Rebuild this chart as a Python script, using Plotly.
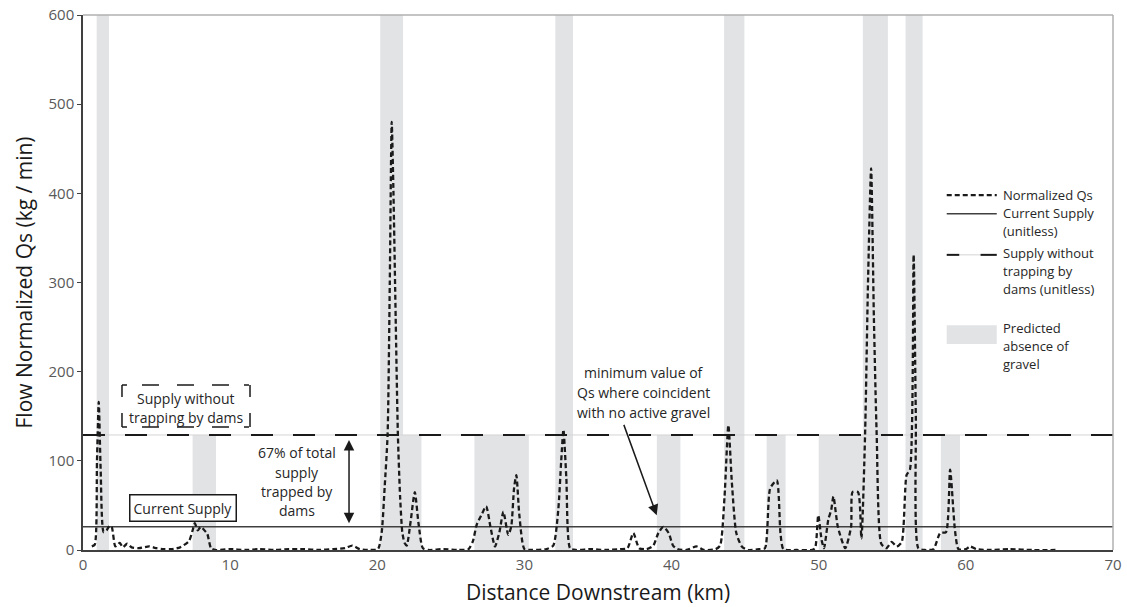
import plotly.graph_objects as go

# ---------------- data ----------------
qs_x = [0.6, 0.8, 0.95, 1.07, 1.2, 1.4, 1.6, 1.8, 1.95, 2.2, 2.5, 2.7, 3.0, 3.3, 3.8, 4.5, 5.0, 5.5,
        6.0, 6.6, 7.2, 7.45, 7.6, 7.8, 8.0, 8.2, 8.45, 8.7, 9.0, 10, 11, 12, 13, 14, 15, 16, 17,
        17.8, 18.3, 18.8, 19.5, 20.05, 20.3, 20.5, 20.7, 20.85, 20.98, 21.1, 21.25, 21.4, 21.55,
        21.7, 21.85, 22.0, 22.25, 22.55, 22.8, 23.1, 23.5, 24.5, 25.5, 26.2, 26.5, 26.75, 27.1,
        27.4, 27.7, 28.0, 28.3, 28.57, 28.9, 29.1, 29.3, 29.45, 29.65, 30.0, 30.5, 31.5, 31.96,
        32.3, 32.5, 32.65, 32.85, 33.1, 33.5, 34.5, 35.5, 36.5, 37.0, 37.4, 37.8, 38.3, 38.76,
        39.1, 39.44, 39.8, 40.1, 40.4, 41.0, 41.7, 42.2, 43.0, 43.3, 43.6, 43.86, 44.1, 44.4,
        44.77, 45.2, 46.0, 46.35, 46.7, 47.15, 47.4, 47.6, 48.5, 49.5, 49.75, 49.97, 50.2, 50.36,
        50.65, 50.85, 51.0, 51.3, 51.8, 52.2, 52.3, 52.67, 52.9, 53.15, 53.35, 53.56, 53.75,
        53.94, 54.25, 54.6, 54.96, 55.3, 55.64, 55.97, 56.2, 56.45, 56.6, 56.77, 57.2, 57.8,
        58.25, 58.65, 58.93, 59.26, 59.5, 60.0, 60.3, 60.7, 61.5, 63.0, 64.5, 66.3]
qs_y = [4, 6, 100, 166, 90, 20, 22, 27, 26, 4, 8, 3, 7, 3, 2, 4, 2, 1,
        1, 3, 10, 22, 30, 22, 26, 23, 18, 2, 0, 1, 0, 1, 0, 1, 1, 0, 1,
        2, 5, 1, 0, 1, 20, 70, 129, 300, 480, 400, 260, 129, 60,
        20, 8, 5, 30, 65, 30, 2, 0, 1, 0, 1, 10, 28, 40,
        49, 25, 4, 20, 43, 17, 26, 70, 84, 40, 1, 0, 1, 5,
        45, 100, 135, 80, 2, 0, 1, 0, 1, 2, 19, 2, 1, 5,
        19, 26, 19, 5, 1, 0, 4, 0, 1, 5, 60, 140, 75, 19,
        4, 0, 1, 2, 69, 78, 19, 1, 0, 0, 2, 39, 11, 2,
        34, 45, 60, 26, 2, 26, 65, 65, 13, 129, 300, 428, 260,
        129, 7, 2, 9, 4, 9, 84, 90, 331, 150, 2, 0, 1,
        19, 20, 90, 22, 1, 1, 4, 1, 0, 1, 0, 0]

current_supply = 26
supply_without_dams = 129

# predicted absence of gravel bands: start km, end km, top value
band_start = [0.93, 7.45, 20.2, 20.2, 26.6, 32.1, 39.0, 43.57, 46.46, 50.0, 53.0, 55.9, 58.3]
band_end = [1.77, 9.04, 23.0, 21.75, 30.3, 33.3, 40.6, 44.95, 47.75, 54.7, 54.7, 57.06, 59.6]
band_top = [600, 129, 129, 600, 129, 600, 129, 600, 129, 129, 600, 600, 129]

x_ticks = [0, 10, 20, 30, 40, 50, 60, 70]
y_ticks = [0, 100, 200, 300, 400, 500, 600]

BAND = "#e2e3e5"
FONT = "Open Sans"
INK = "#1a1a1a"

fig = go.Figure()

# bands as filled polygons
bx, by = [], []
for s, e, t in zip(band_start, band_end, band_top):
    bx += [s, e, e, s, s, None]
    by += [0, 0, t, t, 0, None]
fig.add_trace(go.Scatter(x=bx, y=by, fill="toself", fillcolor=BAND, mode="none",
                         hoverinfo="skip", showlegend=False, name="Predicted absence of gravel"))

# supply without trapping: thin grey line + long dashes
fig.add_trace(go.Scatter(x=[0, 70], y=[supply_without_dams] * 2, mode="lines",
                         line=dict(color="#d4d4d4", width=1), showlegend=False, hoverinfo="skip"))
fig.add_trace(go.Scatter(x=[0, 70], y=[supply_without_dams] * 2, mode="lines",
                         line=dict(color=INK, width=2, dash="22px,20px"),
                         showlegend=False, name="Supply without trapping by dams (unitless)"))
# current supply
fig.add_trace(go.Scatter(x=[0, 70], y=[current_supply] * 2, mode="lines",
                         line=dict(color="#404040", width=1.5),
                         showlegend=False, name="Current Supply (unitless)"))
# Qs
fig.add_trace(go.Scatter(x=qs_x, y=qs_y, mode="lines",
                         line=dict(color=INK, width=2.3, dash="5px,3px", shape="spline", smoothing=0.6),
                         showlegend=False, name="Normalized Qs"))

shapes = []
annotations = []

# ------------ manual legend (in data coords) ------------
lx0, lx1, ltx = 58.7, 62.1, 62.4
shapes.append(dict(type="line", x0=lx0, x1=lx1, y0=398, y1=398, xref="x", yref="y",
                   line=dict(color=INK, width=2.3, dash="5px,3px")))
shapes.append(dict(type="line", x0=lx0, x1=lx1, y0=377, y1=377, xref="x", yref="y",
                   line=dict(color="#404040", width=1.5)))
shapes.append(dict(type="line", x0=lx0, x1=lx1, y0=331, y1=331, xref="x", yref="y",
                   line=dict(color="#d4d4d4", width=1)))
shapes.append(dict(type="line", x0=lx0, x1=lx0 + 0.85, y0=331, y1=331, xref="x", yref="y",
                   line=dict(color=INK, width=2)))
shapes.append(dict(type="line", x0=lx1 - 1.1, x1=lx1, y0=331, y1=331, xref="x", yref="y",
                   line=dict(color=INK, width=2)))
shapes.append(dict(type="rect", x0=lx0, x1=lx1, y0=231, y1=252, xref="x", yref="y",
                   fillcolor=BAND, line=dict(width=0), layer="below"))
leg_font = dict(family=FONT, size=13, color="#262626")
leg_lines = [("Normalized Qs", 195), ("Current Supply", 213), ("(unitless)", 231),
             ("Supply without", 253), ("trapping by", 271), ("dams (unitless)", 289),
             ("Predicted", 328), ("absence of", 346), ("gravel", 364)]
for txt, py in leg_lines:
    annotations.append(dict(x=ltx, y=(550 - py) / 0.8917, xref="x", yref="y", text=txt,
                            showarrow=False, xanchor="left", yanchor="middle", align="left",
                            font=leg_font))

# ------------ in-plot annotations ------------
ann_font = dict(family=FONT, size=14, color="#262626")
# dashed bracket-style box (edges drawn from the corners)
bx0, bx1, by0, by1 = 2.65, 11.35, 138, 185
hdash = "5px,15px,17px,18px,17px,18px,17px,15px,5px,20px"
vdash = "12px,16px,14px,20px"
for (x0, y0, x1, y1, d) in [(bx0, by1, bx1, by1, hdash), (bx0, by0, bx1, by0, hdash),
                            (bx0, by1, bx0, by0, vdash), (bx1, by1, bx1, by0, vdash)]:
    shapes.append(dict(type="line", x0=x0, y0=y0, x1=x1, y1=y1, xref="x", yref="y",
                       line=dict(color=INK, width=1.5, dash=d)))
text_lines = [("Supply without", 7.0, 398), ("trapping by dams", 7.0, 417),
              ("67% of total", 14.55, 452), ("supply", 14.55, 472), ("trapped by", 14.55, 491),
              ("dams", 14.55, 510),
              ("minimum value of", 38.1, 372), ("Qs where coincident", 38.1, 392),
              ("with no active gravel", 38.1, 412)]
for txt, xv, py in text_lines:
    annotations.append(dict(x=xv, y=(550 - py) / 0.8917, xref="x", yref="y", text=txt,
                            showarrow=False, font=ann_font, xanchor="center", yanchor="middle"))
annotations.append(dict(x=6.8, y=47, xref="x", yref="y", text="Current Supply", showarrow=False,
                        font=ann_font, bordercolor=INK, borderwidth=1.5, borderpad=3,
                        bgcolor="white"))
# double arrow
annotations.append(dict(x=18.08, y=30, ax=18.08, ay=125, xref="x", yref="y", axref="x", ayref="y",
                        text="", showarrow=True, arrowhead=2, startarrowhead=2, arrowside="end+start",
                        arrowsize=1.4, arrowwidth=1.5, arrowcolor=INK))
# arrow to minimum value
annotations.append(dict(x=38.99, y=39, ax=36.72, ay=142, xref="x", yref="y", axref="x", ayref="y",
                        text="", showarrow=True, arrowhead=2, arrowsize=1.4, arrowwidth=1.5,
                        arrowcolor=INK))

# top/right light border
shapes.append(dict(type="line", xref="paper", yref="paper", x0=0, x1=1, y0=1, y1=1,
                   line=dict(color="#b0b0b0", width=1.5)))
shapes.append(dict(type="line", xref="paper", yref="paper", x0=1, x1=1, y0=0, y1=1,
                   line=dict(color="#b0b0b0", width=1.5)))

fig.update_layout(
    width=1127, height=607,
    margin=dict(l=83, r=14, t=15, b=57, autoexpand=False),
    paper_bgcolor="white", plot_bgcolor="white",
    showlegend=False,
    shapes=shapes, annotations=annotations,
    font=dict(family=FONT, color="#262626"),
)
fig.update_xaxes(range=[0, 70], tickvals=x_ticks, showgrid=False, zeroline=False, automargin=False,
                 showline=True, linecolor="#404040", linewidth=1.5, ticks="",
                 tickfont=dict(family=FONT, size=15, color="#595959"),
                 title=dict(text="Distance Downstream (km)", font=dict(family=FONT, size=21, color=INK),
                            standoff=13))
fig.update_yaxes(range=[0, 600], tickvals=y_ticks, showgrid=False, zeroline=False, automargin=False,
                 showline=True, linecolor="#404040", linewidth=1.5, ticks="outside", ticklen=4,
                 tickcolor="#404040",
                 tickfont=dict(family=FONT, size=15, color="#595959"),
                 title=dict(text="Flow Normalized Qs (kg / min)", font=dict(family=FONT, size=21, color=INK),
                            standoff=10))

fig.write_html("out.html")
